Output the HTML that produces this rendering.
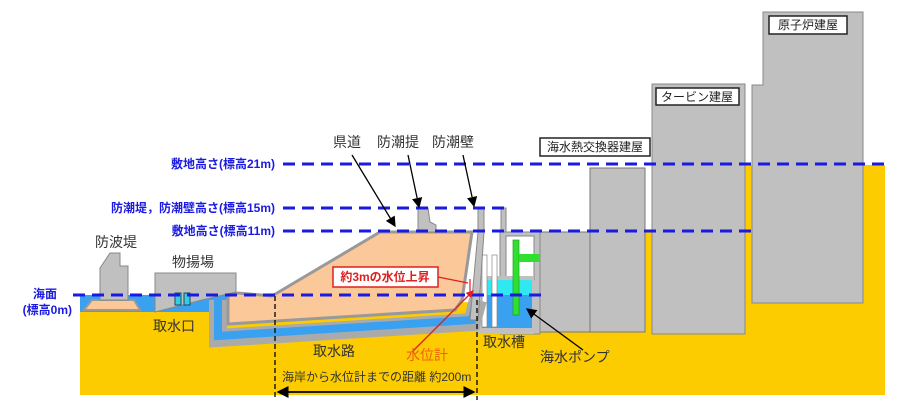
<!DOCTYPE html>
<html><head><meta charset="utf-8"><style>
html,body{margin:0;padding:0;background:#fff;width:900px;height:411px;overflow:hidden}
svg{display:block}
text{font-family:"Liberation Sans","Noto Sans CJK JP",sans-serif}
</style></head><body>
<svg width="900" height="411" viewBox="0 0 900 411">
<defs><marker id="ah" markerWidth="8" markerHeight="8" refX="7" refY="4" orient="auto"><path d="M0,0 L8,4 L0,8 z" fill="#000"/></marker>
<marker id="ar" markerWidth="6" markerHeight="6" refX="5" refY="3" orient="auto"><path d="M0,0 L6,3 L0,6 z" fill="#e02020"/></marker></defs>
<polygon points="80,312 205,312 205,310 540,300 540,232 652,232 652,334 745,334 745,165 885,165 885,395 80,395" fill="#fccc00"/>
<rect x="80" y="295" width="192" height="17" fill="#3aa0f0"/>
<polygon points="752,85 763,85 763,12 863,12 863,303 752,303" fill="#c0c0c0" stroke="#888"/>
<rect x="652" y="84" width="93" height="250" fill="#c0c0c0" stroke="#888"/>
<rect x="539" y="232" width="106" height="100" fill="#c0c0c0" stroke="#777"/>
<rect x="590" y="168" width="55" height="164" fill="#c0c0c0" stroke="#777"/>
<rect x="500" y="232" width="40" height="102" fill="#c0c0c0" stroke="#888"/>
<rect x="506" y="236" width="28" height="44" fill="#fff" stroke="#888"/>
<rect x="478" y="276" width="56" height="58" fill="#c0c0c0"/>
<rect x="482" y="280" width="50" height="15" fill="#30e8f0"/>
<rect x="482" y="295" width="50" height="33" fill="#3aa0f0"/>
<rect x="482" y="255" width="5" height="72" fill="#fff" stroke="#888" stroke-width="0.7"/>
<rect x="492" y="255" width="5" height="72" fill="#fff" stroke="#888" stroke-width="0.7"/>
<rect x="513" y="240" width="6" height="75" fill="#30e030" stroke="#20a020" stroke-width="0.7"/>
<rect x="519" y="254" width="21" height="8" fill="#30e030"/>
<polyline points="218,300 218,338 472,322 478,300" fill="none" stroke="#aaa" stroke-width="18"/>
<polyline points="218,300 218,336 472,320 476,300" fill="none" stroke="#3aa0f0" stroke-width="8"/>
<polygon points="228,296 238,293 272,296 380,232 472,232 462,300 455,310 228,324" fill="#fbc89a" stroke="#999" stroke-width="3"/>
<polygon points="155,273 236,273 236,292 202,300 155,312" fill="#c0c0c0" stroke="#888"/>
<rect x="175" y="293" width="6" height="12" fill="#30d0e0" stroke="#246"/>
<rect x="184" y="293" width="6" height="12" fill="#30d0e0" stroke="#246"/>
<polygon points="84,310 92,300 134,300 140,310" fill="#fbc89a" stroke="#999" stroke-width="2"/>
<polygon points="100,300 100,268 110,253 120,253 120,266 128,266 128,300" fill="#c0c0c0" stroke="#888"/>
<polygon points="418,232 418,208 428,208 430,222 436,225 436,232" fill="#c0c0c0" stroke="#888"/>
<polygon points="470,320 478,232 478,208 484,208 484,232 478,320" fill="#c0c0c0" stroke="#888"/>
<rect x="501" y="208" width="5" height="24" fill="#c0c0c0" stroke="#888"/>
<g stroke="#1a1ae0" stroke-width="3" stroke-dasharray="12,7" fill="none">
<line x1="283" y1="164" x2="885" y2="164"/>
<line x1="283" y1="208" x2="506" y2="208"/>
<line x1="283" y1="231" x2="752" y2="231"/>
<line x1="73" y1="295" x2="542" y2="295"/>
</g>
<g stroke="#000" stroke-width="1.3" stroke-dasharray="5,3"><line x1="275" y1="296" x2="275" y2="400"/><line x1="477" y1="300" x2="477" y2="400"/></g>
<line x1="278" y1="392" x2="474" y2="392" stroke="#000" stroke-width="1.5" marker-end="url(#ah)"/>
<line x1="474" y1="392" x2="278" y2="392" stroke="#000" stroke-width="1.5" marker-end="url(#ah)"/>
<g stroke="#000" stroke-width="1.3"><line x1="352" y1="155" x2="395" y2="226" marker-end="url(#ah)"/><line x1="408" y1="155" x2="419" y2="207" marker-end="url(#ah)"/><line x1="463" y1="155" x2="474" y2="206" marker-end="url(#ah)"/><line x1="583" y1="350" x2="527" y2="309" marker-end="url(#ah)"/></g>
<line x1="412" y1="352" x2="473" y2="291" stroke="#e02020" stroke-width="1.3" marker-end="url(#ar)"/>
<line x1="438" y1="277" x2="468" y2="283" stroke="#e02020" stroke-width="1.2"/>
<line x1="470" y1="279" x2="470" y2="295" stroke="#e02020" stroke-width="1.2"/>
<g fill="#1a1ae0" font-size="12" font-weight="bold" text-anchor="end">
<text x="275" y="168">敷地高さ(標高21m)</text>
<text x="275" y="212">防潮堤，防潮壁高さ(標高15m)</text>
<text x="275" y="235">敷地高さ(標高11m)</text>
<text x="57" y="298">海面</text>
<text x="72" y="314">(標高0m)</text>
</g>
<g fill="#333" font-size="14">
<text x="333" y="147">県道</text><text x="377" y="147">防潮提</text><text x="432" y="147">防潮壁</text>
<text x="95" y="247">防波堤</text><text x="172" y="267">物揚場</text><text x="153" y="331">取水口</text>
<text x="313" y="356">取水路</text><text x="483" y="347">取水槽</text><text x="540" y="362">海水ポンプ</text>
<text x="282" y="381" font-size="12">海岸から水位計までの距離 約200m</text>
</g>
<text x="406" y="360" fill="#f06010" font-size="14">水位計</text>
<rect x="333" y="267" width="105" height="20" fill="#fff" stroke="#e02020" stroke-width="1.5"/>
<text x="385" y="281" fill="#e02020" font-size="12" font-weight="bold" text-anchor="middle">約3mの水位上昇</text>
<g font-size="12" fill="#222" text-anchor="middle">
<rect x="540" y="138" width="110" height="18" fill="#fff" stroke="#222" stroke-width="1.5"/><text x="595" y="151">海水熱交換器建屋</text>
<rect x="656" y="88" width="83" height="17" fill="#fff" stroke="#222" stroke-width="1.5"/><text x="697" y="101">タービン建屋</text>
<rect x="769" y="16" width="78" height="18" fill="#fff" stroke="#222" stroke-width="1.5"/><text x="808" y="29">原子炉建屋</text>
</g>
</svg>
</body></html>
